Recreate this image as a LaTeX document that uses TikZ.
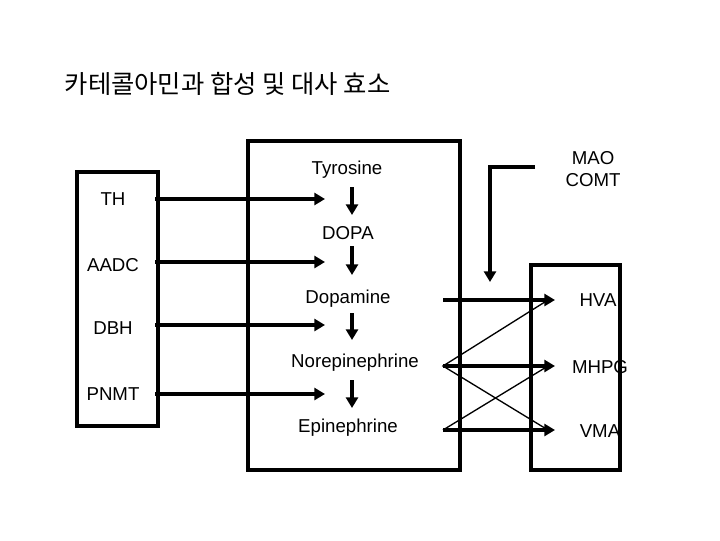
\documentclass[tikz,border=0pt]{standalone}
\usepackage{fontspec}
\usetikzlibrary{arrows.meta}
\setmainfont{Liberation Sans}
\newfontfamily\kfont{Noto Sans CJK KR}
\begin{document}
\begin{tikzpicture}[x=0.75pt,y=-0.75pt,
 box/.style={line width=2.4pt},
 arr/.style={line width=2.4pt,-{Triangle[length=8pt,width=9pt]}},
 thin/.style={line width=1pt},
 lbl/.style={font=\fontsize{14pt}{16pt}\selectfont,inner sep=1pt}]
\useasboundingbox (0,0) rectangle (720,540);
\node[anchor=west,font=\kfont\fontsize{19pt}{22pt}\selectfont] (title) at (60,84) {카테콜아민과 합성 및 대사 효소};
\draw[box] (77,172) rectangle (158,426);
\draw[box] (248,141) rectangle (460,470);
\draw[box] (531,265) rectangle (620,470);
\node[lbl] (th) at (113,199) {TH};
\node[lbl] (aadc) at (113,265) {AADC};
\node[lbl] (dbh) at (113,328) {DBH};
\node[lbl] (pnmt) at (113,394) {PNMT};
\node[lbl] (tyr) at (347,170) {Tyrosine};
\node[lbl] (dopa) at (348,233) {DOPA};
\node[lbl] (dopam) at (348,299) {Dopamine};
\node[lbl] (nore) at (355,363) {Norepinephrine};
\node[lbl] (epi) at (348,428) {Epinephrine};
\node[lbl,align=center] (mao) at (593,169) {MAO\\COMT};
\node[lbl] (hva) at (598,300) {HVA};
\node[lbl] (mhpg) at (600,367) {MHPG};
\node[lbl] (vma) at (600,431) {VMA};
\foreach \y/\n in {199/a,262/b,325/c,394/d}{
 \coordinate (l\n) at (155,\y); \coordinate (r\n) at (325,\y);
 \draw[arr] (l\n) -- (r\n);}
\foreach \a/\b/\n in {187/215/a,246/275/b,313/340/c,380/408/d}{
 \coordinate (ua\n) at (352,\a); \coordinate (da\n) at (352,\b);
 \draw[arr] (ua\n) -- (da\n);}
\coordinate (m1) at (535,167); \coordinate (m2) at (490,167); \coordinate (m3) at (490,282);
\draw[arr] (m1) -- (m2) -- (m3);
\foreach \y/\n in {300/a,366/b,430/c}{
 \coordinate (p\n) at (443,\y); \coordinate (q\n) at (555,\y);
 \draw[arr] (p\n) -- (q\n);}
\draw[thin] (548,300) -- (pb) -- (548,430);
\draw[thin] (pc) -- (548,366);
\end{tikzpicture}
\end{document}
